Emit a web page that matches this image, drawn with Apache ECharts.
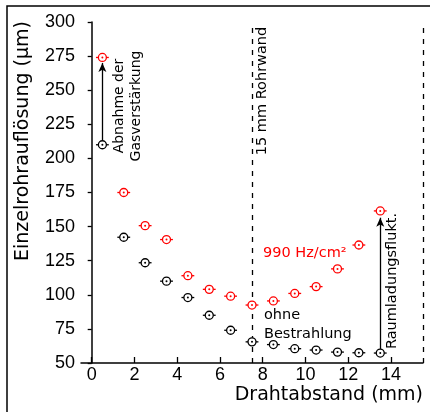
<!DOCTYPE html>
<html>
<head>
<meta charset="utf-8">
<script src="https://cdn.jsdelivr.net/npm/echarts@6/dist/echarts.min.js"></script>
<style>html,body{margin:0;padding:0;background:#fff}#c{width:430px;height:412px}</style>
</head>
<body>
<div id="c"></div>
<script>
// Data
const distances = [0.5, 1.5, 2.5, 3.5, 4.5, 5.5, 6.5, 7.5, 8.5, 9.5, 10.5, 11.5, 12.5, 13.5];
const irradiated = [274, 175, 150.7, 140.5, 114, 104, 99, 92.5, 95.5, 101, 106, 119, 136.5, 161.5];
const unirradiated = [210, 142.2, 123.5, 110, 98, 85, 74, 65.5, 63.5, 60.5, 59.5, 58, 57.5, 57.3];
const xTickValues = [0, 2, 4, 6, 8, 10, 12, 14];
const wallLines = [7.5, 15.5];
const xErr = 0.3;

const RED = '#ff0000';
const BLACK = '#000000';
const TXT = 'DejaVu Sans';
const NUM = 'Liberation Sans';

function pointSeries(name, vals, color) {
  return {
    name: name,
    type: 'custom',
    data: distances.map((x, i) => [x, vals[i]]),
    renderItem: function (params, api) {
      const x = api.value(0), y = api.value(1);
      const p = api.coord([x, y]);
      const l = api.coord([x - xErr, y]);
      const r = api.coord([x + xErr, y]);
      return {
        type: 'group',
        children: [
          {type: 'line', shape: {x1: l[0], y1: p[1], x2: r[0], y2: p[1]}, style: {stroke: color, lineWidth: 1.3}},
          {type: 'circle', shape: {cx: p[0], cy: p[1], r: 4}, style: {fill: '#fff', stroke: color, lineWidth: 1.3}},
          {type: 'circle', shape: {cx: p[0], cy: p[1], r: 1}, style: {fill: color}}
        ]
      };
    },
    silent: true,
    z: 5
  };
}

const chart = echarts.init(document.getElementById('c'), null, {renderer: 'canvas'});
chart.setOption({
  animation: false,
  backgroundColor: '#fff',
  grid: {left: 81, right: 7, top: 22, bottom: 49},
  xAxis: {
    type: 'value', min: -0.5, max: 15.5,
    axisLine: {show: true, lineStyle: {color: '#000', width: 1.5}},
    axisTick: {show: true, inside: true, length: 6, customValues: xTickValues, lineStyle: {color: '#000', width: 1.3}},
    axisLabel: {customValues: xTickValues, color: '#000', fontFamily: NUM, fontSize: 18, margin: 3},
    splitLine: {show: false}
  },
  yAxis: {
    type: 'value', min: 50, max: 300, interval: 25,
    axisLine: {show: true, lineStyle: {color: '#000', width: 1.5}},
    axisTick: {show: true, inside: false, length: 4, lineStyle: {color: '#000', width: 1.3}},
    axisLabel: {color: '#000', fontFamily: NUM, fontSize: 18, margin: 6},
    splitLine: {show: false}
  },
  series: [
    {
      type: 'line', data: [], silent: true,
      markLine: {
        silent: true, symbol: ['none', 'none'], label: {show: false},
        lineStyle: {color: '#000', type: [5, 6], width: 1.3},
        data: wallLines.map(v => ({xAxis: v}))
      }
    },
    {
      type: 'line', data: [], silent: true,
      markLine: {
        silent: true, symbol: ['none', 'arrow'], symbolSize: [6, 9], label: {show: false},
        lineStyle: {color: '#000', type: 'solid', width: 1.3},
        data: [
          [{coord: [distances[0], unirradiated[0] + 3]}, {coord: [distances[0], irradiated[0] - 4]}],
          [{coord: [distances[13], unirradiated[13] + 3]}, {coord: [distances[13], irradiated[13] - 5]}]
        ]
      }
    },
    pointSeries('ohne Bestrahlung', unirradiated, BLACK),
    pointSeries('990 Hz/cm²', irradiated, RED)
  ],
  graphic: [
    {type: 'rect', shape: {x: 7, y: 6, width: 440, height: 430}, style: {fill: 'none', stroke: '#000', lineWidth: 1.5}, z: 100},
    {type: 'text', x: 23, y: 141, rotation: Math.PI / 2, style: {text: 'Einzelrohrauflösung (µm)', font: '19px "DejaVu Sans"', fill: '#000', textAlign: 'center', textVerticalAlign: 'middle'}},
    {type: 'text', x: 423, y: 395, style: {text: 'Drahtabstand (mm)', font: '19px "DejaVu Sans"', fill: '#000', textAlign: 'right', textVerticalAlign: 'middle'}},
    {type: 'text', x: 119, y: 106, rotation: Math.PI / 2, style: {text: 'Abnahme der', font: '14px "DejaVu Sans"', fill: '#000', textAlign: 'center', textVerticalAlign: 'middle'}},
    {type: 'text', x: 136.5, y: 106, rotation: Math.PI / 2, style: {text: 'Gasverstärkung', font: '14px "DejaVu Sans"', fill: '#000', textAlign: 'center', textVerticalAlign: 'middle'}},
    {type: 'text', x: 262, y: 91, rotation: Math.PI / 2, style: {text: '15 mm Rohrwand', font: '14.5px "DejaVu Sans"', fill: '#000', textAlign: 'center', textVerticalAlign: 'middle'}},
    {type: 'text', x: 392, y: 281, rotation: Math.PI / 2, style: {text: 'Raumladungsflukt.', font: '14.5px "DejaVu Sans"', fill: '#000', textAlign: 'center', textVerticalAlign: 'middle'}},
    {type: 'text', x: 263, y: 253, style: {text: '990 Hz/cm²', font: '14.5px "DejaVu Sans"', fill: RED, textAlign: 'left', textVerticalAlign: 'middle'}},
    {type: 'text', x: 264, y: 315, style: {text: 'ohne', font: '14.5px "DejaVu Sans"', fill: '#000', textAlign: 'left', textVerticalAlign: 'middle'}},
    {type: 'text', x: 264, y: 334, style: {text: 'Bestrahlung', font: '14.5px "DejaVu Sans"', fill: '#000', textAlign: 'left', textVerticalAlign: 'middle'}}
  ]
});
</script>
</body>
</html>
